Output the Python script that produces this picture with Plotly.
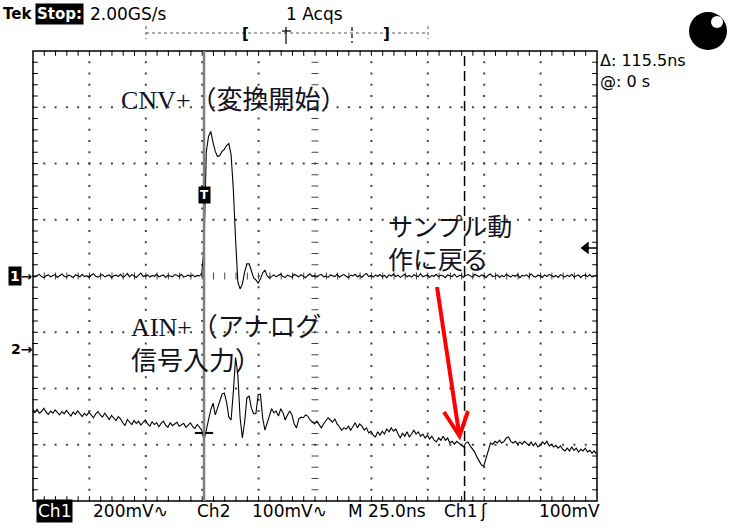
import numpy as np
import plotly.graph_objects as go

# scope settings
TIME_DIV = 25.0      # ns/div
CH1_SCALE = 200.0    # mV/div
CH2_SCALE = 100.0    # mV/div
CH1_POS = 0.0        # ground marker position, div
CH2_POS = -1.31
TRIG_LEVEL = 100.0   # mV on Ch1
CURSOR_DT = 115.5    # ns
T_LEFT = -75.8       # ns at left edge of the graticule
SAMPLE_NS = 1.0      # spacing of the read-off samples

# Ch1 (CNV+) in mV, before and after the trigger point
ch1_pre = [3, -4, 2, 6, -2, -6, 1, 4, -3, 0, 5, -5,
           2, 7, -1, -4, 3, 0, -6, 4, 2, -3, 6, -2,
           1, -5, 3, 8, -1, -4, 2, 5, -3, 0, 4, -6,
           1, 3, -2, 6, -4, 0, 9, -3, 5, 1, -5, 3,
           10, -2, 0, 4, -4, 2, -1, 6, -3, 1, 4, -5,
           2, 0, -3, 5, 3, -2, 6, -4, 1, 3, -1, 4,
           -3, 2, 0, 10]
ch1_post = [100,
            440, 496, 514, 475, 443, 425, 428, 443, 450, 464,
            471, 432, 307, 129, -21, -46, -29, 14, 43, 43,
            14, -7, -14, -25, -11, 11, 21, 0, -7, 0,
            4, -3, 1, 7, -2, -5, 3, 0, -4, 6, 2, -3,
            5, -1, -6, 2, 8, -2, 1, -4, 3, 6, -3, 0,
            -5, 4, 1, -2, 7, -4, 2, 5, -1, -6, 3, 0,
            6, -3, 2, -5, 4, 9, -2, 1, -4, 3, -1, 5,
            -3, 2, -6, 4, 0, 7, -2, 3, -5, 1, 6, -3,
            2, -4, 5, 0, -2, 8, -3, 1, 4, -5, 2, -1,
            6, -3, 3, 0, -6, 4, 2, -2, 7, -4, 1, 3,
            -5, 2, 5, -1, -4, 6, 0, -3, 4, 1, -6, 3,
            7, -2, 0, 4, -5, 2, -3, 6, 1, -4, 3, -1,
            5, -6, 2, 0, 4, -3, 8, -1, -4, 3, 1, -5,
            4, -2, 6, 0, -3, 2, -5, 5, 1, -4, 3, -2,
            6, -3, 0, 4, -6, 2, 3, -2, 5, -4, 1, 3]

# Ch2 (AIN+) in mV
ch2_pre = [-108, -112, -106, -113, -110, -104, -111, -115, -109, -113,
           -107, -112, -116, -110, -114, -108, -113, -118, -111, -115,
           -109, -114, -119, -113, -117, -111, -116, -121, -114, -110,
           -116, -120, -113, -118, -124, -117, -121, -126, -119, -123,
           -130, -135, -124, -128, -133, -126, -131, -127, -134, -129,
           -125, -132, -136, -128, -133, -130, -137, -131, -127, -134,
           -138, -130, -135, -132, -129, -136, -133, -131, -138, -134,
           -130, -137, -140, -133, -139, -143]
ch2_post = [-161,
            -143, -121, -107, -95, -116, -104, -89, -79, -77, -93,
            -120, -125, -75, -14, -45, -121, -157, -129, -86, -82,
            -104, -114, -114, -80, -79, -121, -143, -129, -116, -105,
            -112, -109, -118, -105, -112, -125, -116, -109, -116, -132,
            -139, -123, -120, -121, -116,
            -118, -125, -129, -132, -127, -134, -139, -132, -127, -121,
            -125, -129, -123, -132, -137, -143, -139, -141, -136, -143,
            -137, -130, -139, -132, -136, -143, -139, -148, -145, -152,
            -155, -146, -152, -145, -150, -141, -146, -139, -145, -141,
            -150, -157, -148, -154, -146, -155, -150, -143, -150, -146,
            -154, -150, -157, -152, -159, -154, -161, -164, -157, -161,
            -154, -161, -157, -166, -163, -168, -163, -166, -170, -173,
            -166, -164, -171, -177, -182, -191, -198, -205, -207, -193,
            -177, -166, -168, -163, -166, -161, -166, -163, -157, -155,
            -163, -166, -163, -168, -164, -168, -163, -166, -170, -164,
            -171, -166, -173, -170, -164, -168, -163, -171, -168, -173,
            -170, -175, -171, -177, -180, -175, -180, -173, -179, -175,
            -182, -177, -180, -175, -182, -179, -184, -180, -186]

# graticule box in window pixels
W, H = 739, 531
L, R, T, B = 33, 597, 51, 501
T_RIGHT = T_LEFT + 10 * TIME_DIV
NS_PX = (T_RIGHT - T_LEFT) / (R - L)
DIV_PX = 8.0 / (B - T)


def px(x):
    return (x - L) / (R - L)


def py(y):
    return (B - y) / (B - T)


def sample_times(pre, post):
    return np.concatenate([np.arange(-len(pre), 0), np.arange(len(post))]) * SAMPLE_NS


t1 = sample_times(ch1_pre, ch1_post)
t2 = sample_times(ch2_pre, ch2_post)
y1 = np.array(ch1_pre + ch1_post) / CH1_SCALE + CH1_POS
y2 = np.array(ch2_pre + ch2_post) / CH2_SCALE + CH2_POS

fig = go.Figure()

# graticule: dotted grid, centre cross ticks, border ticks
minor_x = T_LEFT + np.arange(1, 50) * TIME_DIV / 5
minor_y = -4 + np.arange(1, 40) * 0.2
dx, dy = [], []
for k in [1, 2, 3, 4, 6, 7, 8, 9]:
    dx += [T_LEFT + k * TIME_DIV] * len(minor_y)
    dy += list(minor_y)
for j in [-3, -2, -1, 1, 2, 3]:
    dx += list(minor_x)
    dy += [j] * len(minor_x)
fig.add_trace(go.Scatter(x=dx, y=dy, mode='markers', hoverinfo='skip',
                         marker=dict(symbol='square', size=2, color='#444', line=dict(width=0))))


def ticks(x, y, symbol, size, color='black'):
    fig.add_trace(go.Scatter(x=x, y=y, mode='markers', hoverinfo='skip', cliponaxis=False,
                             marker=dict(symbol=symbol, size=size, line=dict(width=1, color=color))))


ticks([T_LEFT + 5 * TIME_DIV] * len(minor_y), minor_y, 'line-ew', 5, '#444')
ticks(minor_x, [0] * len(minor_x), 'line-ns', 5, '#444')
ticks([T_LEFT + 2 * NS_PX] * len(minor_y), minor_y, 'line-ew', 4)
ticks([T_RIGHT - 2 * NS_PX] * len(minor_y), minor_y, 'line-ew', 4)
ticks(minor_x, [4 - 2 * DIV_PX] * len(minor_x), 'line-ns', 4)
ticks(minor_x, [-4 + 2 * DIV_PX] * len(minor_x), 'line-ns', 4)

# waveforms
fig.add_trace(go.Scatter(x=t1, y=y1, mode='lines', hoverinfo='skip',
                         line=dict(color='black', width=1.1)))
fig.add_trace(go.Scatter(x=t2, y=y2, mode='lines', hoverinfo='skip',
                         line=dict(color='black', width=1.1)))

# trigger level arrow at right edge, Ch2 trigger mark
fig.add_trace(go.Scatter(x=[T_RIGHT - 11 * NS_PX], y=[TRIG_LEVEL / CH1_SCALE + CH1_POS], mode='markers',
                         hoverinfo='skip', cliponaxis=False,
                         marker=dict(symbol='triangle-left', size=11, color='black')))
fig.add_trace(go.Scatter(x=[0], y=[CH2_POS - 1.48], mode='markers', hoverinfo='skip',
                         marker=dict(symbol='line-ew', size=13, line=dict(width=2, color='black'))))

shapes = [
    dict(type='rect', xref='paper', yref='paper', x0=0, x1=1, y0=0, y1=1,
         line=dict(color='black', width=1.5)),
    dict(type='line', xref='x', yref='paper', x0=0, x1=0, y0=0, y1=1,
         line=dict(color='#808080', width=2.5)),
    dict(type='line', xref='x', yref='paper', x0=CURSOR_DT, x1=CURSOR_DT, y0=0, y1=1,
         line=dict(color='black', width=1.5, dash='10px,5px')),
    dict(type='line', xref='paper', yref='paper', x0=px(588), x1=px(597), y0=py(248), y1=py(248),
         line=dict(color='black', width=1.5)),
    # record view bar
    dict(type='line', xref='paper', yref='paper', x0=px(146), x1=px(428), y0=py(33), y1=py(33),
         line=dict(color='#555', width=1, dash='dot')),
    dict(type='line', xref='paper', yref='paper', x0=px(146), x1=px(146), y0=py(26), y1=py(39),
         line=dict(color='#555', width=1, dash='dot')),
    dict(type='line', xref='paper', yref='paper', x0=px(428), x1=px(428), y0=py(26), y1=py(39),
         line=dict(color='#555', width=1, dash='dot')),
    dict(type='line', xref='paper', yref='paper', x0=px(286), x1=px(286), y0=py(27), y1=py(44),
         line=dict(color='black', width=1.2)),
    dict(type='line', xref='paper', yref='paper', x0=px(282), x1=px(291), y0=py(31), y1=py(31),
         line=dict(color='black', width=1.2)),
    dict(type='line', xref='paper', yref='paper', x0=px(352), x1=px(352), y0=py(27), y1=py(43),
         line=dict(color='black', width=1.2, dash='4px,3px')),
    # status ball
    dict(type='circle', xref='paper', yref='paper', x0=px(689), x1=px(727), y0=py(50), y1=py(12),
         fillcolor='black', line=dict(width=0)),
    dict(type='circle', xref='paper', yref='paper', x0=px(711), x1=px(723), y0=py(28), y1=py(16),
         fillcolor='white', line=dict(width=0)),
    # red arrow
    dict(type='path', xref='paper', yref='paper',
         path=f'M {px(437)},{py(287)} L {px(459)},{py(433)}', line=dict(color='red', width=4)),
    dict(type='path', xref='paper', yref='paper',
         path=f'M {px(444)},{py(412)} L {px(459.5)},{py(436)} L {px(468)},{py(411)}',
         line=dict(color='red', width=4)),
]

SANS = 'DejaVu Sans'
JP = 'Liberation Serif, Noto Sans CJK JP'


def label(x, y, text, size=17, color='black', family=SANS, xanchor='left', bg=None):
    d = dict(x=px(x), y=py(y), xref='paper', yref='paper', text=text, showarrow=False,
             xanchor=xanchor, yanchor='middle', align='left',
             font=dict(family=family, size=size, color=color))
    if bg:
        d['bgcolor'] = bg
        d['borderpad'] = 1
    return d


annotations = [
    label(1, 14, '<b>Tek</b>', size=15),
    label(35, 14, '<b>Stop:</b>', size=15, color='white', bg='black'),
    label(88, 14, '2.00GS/s'),
    label(314, 14, '1 Acqs', xanchor='center'),
    label(240, 34, '<b>[</b>', size=15),
    label(381, 34, '<b>]</b>', size=15),
    label(598, 71, 'Δ: 115.5ns<br>@: 0 s', size=16),
    label(8, 276, '<b>1</b>', size=14, color='white', bg='black'),
    label(19, 276, '<b>→</b>', size=13),
    label(9, 349, '<b>2→</b>', size=14),
    dict(x=0, y=(276 - 195) / (B - T) * 8, xref='x', yref='y', text='<b>T</b>', showarrow=False,
         font=dict(family=SANS, size=12, color='white'), bgcolor='black', borderpad=1),
    # bottom status line
    label(36, 511, 'Ch1', color='white', bg='black'),
    label(91, 511, '200mV∿'),
    label(195, 511, 'Ch2'),
    label(250, 511, '100mV∿'),
    label(346, 511, 'M 25.0ns'),
    label(442, 511, 'Ch1'),
    label(478, 511, 'ʃ'),
    label(537, 511, '100mV'),
    # notes
    label(119, 100, 'CNV+（変換開始）', size=26, family=JP, color='#111122'),
    label(386, 244, 'サンプル動<br>作に戻る', size=25, family=JP, color='#111122'),
    label(129, 344, 'AIN+（アナログ<br>信号入力）', size=26, family=JP, color='#111122'),
]

fig.update_layout(
    width=W, height=H,
    margin=dict(l=L, r=W - R, t=T, b=H - B),
    paper_bgcolor='white', plot_bgcolor='white',
    showlegend=False,
    xaxis=dict(range=[T_LEFT, T_RIGHT], visible=False, fixedrange=True),
    yaxis=dict(range=[-4, 4], visible=False, fixedrange=True),
    shapes=shapes,
    annotations=annotations,
)

# drop the browser's default 8px body margin so the figure sits at the window corner
fig.write_html("out.html", config={'displayModeBar': False},
               post_script="document.body.style.margin='0';")
